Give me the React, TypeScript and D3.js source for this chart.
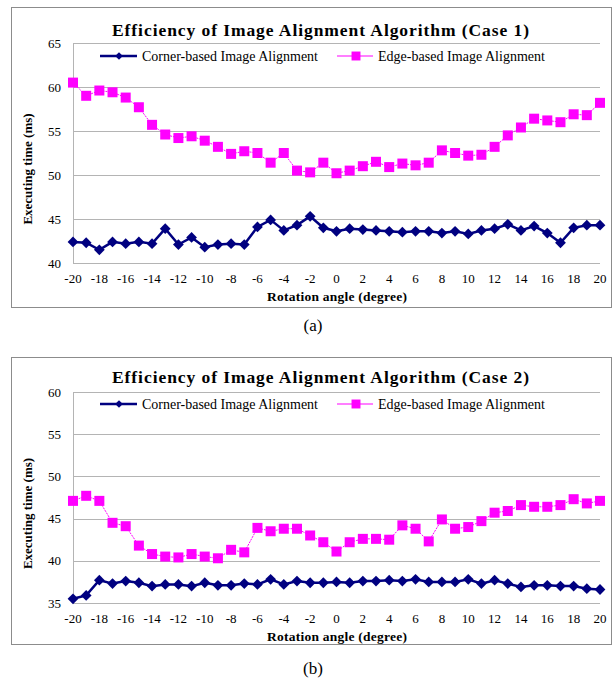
import * as d3 from "d3";

const angles = d3.range(-20, 21);

// Case 1
const corner1 = [42.4, 42.3, 41.5, 42.4, 42.2, 42.4, 42.2, 43.9, 42.1, 42.9, 41.8, 42.1, 42.2, 42.1, 44.1, 44.9, 43.7, 44.3, 45.3, 44.0, 43.6, 43.9, 43.8, 43.7, 43.6, 43.5, 43.6, 43.6, 43.4, 43.6, 43.3, 43.7, 43.9, 44.4, 43.7, 44.2, 43.4, 42.3, 44.0, 44.3, 44.3];
const edge1 = [60.5, 59.0, 59.6, 59.4, 58.8, 57.7, 55.7, 54.6, 54.2, 54.4, 53.9, 53.2, 52.4, 52.7, 52.5, 51.4, 52.5, 50.5, 50.3, 51.4, 50.2, 50.5, 51.0, 51.5, 50.9, 51.3, 51.1, 51.4, 52.8, 52.5, 52.2, 52.3, 53.2, 54.5, 55.4, 56.4, 56.2, 56.0, 56.9, 56.8, 58.2];

// Case 2
const corner2 = [35.5, 35.9, 37.7, 37.3, 37.6, 37.4, 37.0, 37.2, 37.2, 37.0, 37.4, 37.1, 37.1, 37.3, 37.2, 37.8, 37.2, 37.6, 37.4, 37.4, 37.5, 37.4, 37.6, 37.6, 37.7, 37.6, 37.8, 37.5, 37.5, 37.5, 37.8, 37.3, 37.7, 37.3, 36.9, 37.1, 37.1, 37.0, 37.0, 36.7, 36.6];
const edge2 = [47.1, 47.7, 47.1, 44.5, 44.1, 41.8, 40.8, 40.5, 40.4, 40.8, 40.5, 40.3, 41.3, 41.0, 43.9, 43.5, 43.8, 43.8, 43.0, 42.2, 41.1, 42.2, 42.6, 42.6, 42.5, 44.2, 43.8, 42.3, 44.9, 43.8, 44.0, 44.7, 45.7, 45.9, 46.6, 46.4, 46.4, 46.6, 47.3, 46.8, 47.1];

const xTicks = d3.range(-20, 21, 2);
const yTicks1 = [40, 45, 50, 55, 60, 65];
const yTicks2 = [35, 40, 45, 50, 55, 60];

const seriesNames = ["Corner-based Image Alignment", "Edge-based Image Alignment"];

const serif = "'Liberation Serif', 'Times New Roman', serif";
const navy = "#000080";
const magenta = "#ff00ff";

type ChartProps = {
  title: string;
  corner: number[];
  edge: number[];
  yTicks: number[];
  frameTop: number;
  frameBottom: number;
  plotTop: number;
  plotBottom: number;
  titleY: number;
  legendY: number;
  caption: string;
  captionY: number;
};

const Chart = (p: ChartProps) => {
  const x = d3.scaleLinear().domain([-20, 20]).range([73, 600]);
  const y = d3
    .scaleLinear()
    .domain([p.yTicks[0], p.yTicks[p.yTicks.length - 1]])
    .range([p.plotBottom, p.plotTop]);

  const line = d3
    .line<number>()
    .x((_, i) => x(angles[i]))
    .y((d) => y(d));

  const diamond = d3.symbol().type(d3.symbolSquare).size(58)()!;
  const square = d3.symbol().type(d3.symbolSquare).size(100)()!;
  const legendSquare = d3.symbol().type(d3.symbolSquare).size(80)()!;
  const cx = (73 + 600) / 2;
  const cy = (p.plotTop + p.plotBottom) / 2;

  return (
    <g>
      <rect
        x={11.5}
        y={p.frameTop + 0.5}
        width={600}
        height={p.frameBottom - p.frameTop}
        fill="white"
        stroke="#8c8c8c"
      />
      <text
        x={112}
        y={p.titleY}
        fontFamily={serif}
        fontWeight="bold"
        fontSize={17.5}
        fill="#000"
        textLength={417}
        lengthAdjust="spacing"
      >
        {p.title}
      </text>

      {p.yTicks.map((t) => (
        <g key={t}>
          <line x1={73} x2={600} y1={Math.round(y(t)) + 0.5} y2={Math.round(y(t)) + 0.5} stroke="#b4b4b4" />
          <text x={61} y={y(t) + 4.5} textAnchor="end" fontFamily={serif} fontSize={13} fill="#000">
            {t}
          </text>
        </g>
      ))}
      <line x1={73.5} x2={73.5} y1={p.plotTop} y2={p.plotBottom} stroke="#b4b4b4" />

      {xTicks.map((t) => (
        <text key={t} x={x(t)} y={p.plotBottom + 20} textAnchor="middle" fontFamily={serif} fontSize={13} fill="#000">
          {t}
        </text>
      ))}

      <text
        x={267}
        y={p.plotBottom + 38}
        fontFamily={serif}
        fontWeight="bold"
        fontSize={13.5}
        fill="#000"
        textLength={140}
        lengthAdjust="spacing"
      >
        Rotation angle (degree)
      </text>
      <text
        transform={`translate(${32},${cy + 16}) rotate(-90)`}
        textAnchor="middle"
        fontFamily={serif}
        fontWeight="bold"
        fontSize={13}
        fill="#000"
      >
        Executing time (ms)
      </text>

      {/* legend */}
      <line x1={100} x2={137} y1={p.legendY} y2={p.legendY} stroke={navy} strokeWidth={2.5} />
      <path d={d3.symbol().type(d3.symbolSquare).size(30)()!} transform={`translate(119,${p.legendY}) rotate(45)`} fill={navy} />
      <text x={142} y={p.legendY + 4.5} fontFamily={serif} fontSize={14} fill="#000" textLength={176} lengthAdjust="spacing">
        {seriesNames[0]}
      </text>
      <line x1={337} x2={373} y1={p.legendY} y2={p.legendY} stroke={magenta} strokeWidth={1.2} />
      <path d={legendSquare} transform={`translate(356,${p.legendY})`} fill={magenta} />
      <text x={378} y={p.legendY + 4.5} fontFamily={serif} fontSize={14} fill="#000" textLength={167} lengthAdjust="spacing">
        {seriesNames[1]}
      </text>

      <path d={line(p.edge)!} fill="none" stroke={magenta} strokeWidth={1} strokeDasharray="2,1" />
      {p.edge.map((v, i) => (
        <path key={i} d={square} transform={`translate(${x(angles[i])},${y(v)})`} fill={magenta} />
      ))}

      <path d={line(p.corner)!} fill="none" stroke={navy} strokeWidth={2.5} />
      {p.corner.map((v, i) => (
        <path key={i} d={diamond} transform={`translate(${x(angles[i])},${y(v)}) rotate(45)`} fill={navy} />
      ))}

      <text x={313} y={p.captionY} textAnchor="middle" fontFamily={serif} fontSize={17} fill="#000">
        {p.caption}
      </text>
    </g>
  );
};

export default function App() {
  return (
    <svg
      width={615}
      height={678}
      style={{ position: "absolute", left: 0, top: 0, background: "white" }}
    >
      <rect width={615} height={678} fill="white" />
      <Chart
        title="Efficiency of Image Alignment Algorithm (Case 1)"
        corner={corner1}
        edge={edge1}
        yTicks={yTicks1}
        frameTop={7}
        frameBottom={307}
        plotTop={43}
        plotBottom={263}
        titleY={36}
        legendY={56}
        caption="(a)"
        captionY={331}
      />
      <Chart
        title="Efficiency of Image Alignment Algorithm (Case 2)"
        corner={corner2}
        edge={edge2}
        yTicks={yTicks2}
        frameTop={357}
        frameBottom={644}
        plotTop={392}
        plotBottom={603}
        titleY={383}
        legendY={404}
        caption="(b)"
        captionY={674}
      />
    </svg>
  );
}
